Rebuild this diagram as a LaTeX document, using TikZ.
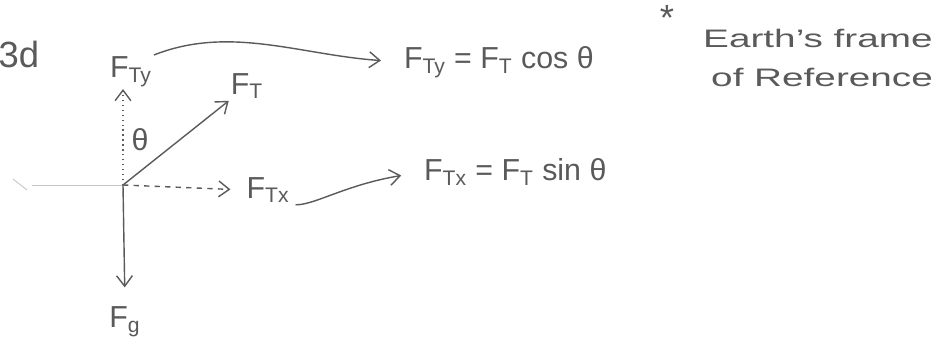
\documentclass[tikz,border=0pt]{standalone}
\usepackage{fontspec}
\setmainfont{Liberation Sans}
\usetikzlibrary{arrows.meta}
\definecolor{pencil}{HTML}{5A5A5A}
\tikzset{
    force/.style = {draw=pencil, line width=0.8pt, -{Straight Barb[length=6pt, width=9pt]}},
    part/.style = {force, dashed},
    label/.style = {text=pencil, font=\LARGE, inner sep=1pt},
    note/.style = {label, font=\Large, xscale=1.53, anchor=west},
}
\newcommand{\sub}[1]{\textsubscript{#1}}

\begin{document}
\begin{tikzpicture}[x=0.02cm, y=-0.02cm]
            \useasboundingbox (0, 0) rectangle (952, 350);

            \node[label, font=\huge] (num) at (19, 54) {3d};

            \coordinate (O) at (123, 185);
            \coordinate (ground) at (32, 185);
            \coordinate (slash) at (13, 179);

            \node[label] (FTy) at (131, 72) {F\sub{Ty}};
            \node[label] (FT) at (247, 86) {F\sub{T}};
            \node[label] (FTx) at (268, 190) {F\sub{Tx}};
            \node[label] (Fg) at (125, 322) {F\sub{g}};
            \node[label] (theta) at (140, 140) {θ};

            \node[label, anchor=west] (eqy) at (402, 62) {F\sub{Ty} = F\sub{T} cos θ};
            \node[label, anchor=west] (eqx) at (422, 172) {F\sub{Tx} = F\sub{T} sin θ};

            \node[label, font=\huge] (star) at (667, 18) {*};
            \node[note] (frame) at (700, 38) {Earth's frame};
            \node[note] (ref) at (708, 77) {of Reference};

            \draw[pencil!35, line width=0.5pt] (ground) -- (O);
            \draw[pencil!35, line width=0.5pt] (slash) -- ++(14, 11);
            \draw[force, dotted] (O) -- (O |- FTy.south);
            \draw[force] (O) -- (FT.south west);
            \draw[part, shorten >=8pt] (O) -- (FTx.west);
            \draw[force, shorten >=10pt] (O) -- (Fg.north);
            \draw[force, shorten >=12pt] (FTy.north east) .. controls (230, 25) and (300, 55) .. (eqy.west);
            \draw[force, shorten >=12pt] ([shift={(4, 0)}]FTx.south east) .. controls (315, 205) and (345, 185) .. (eqx.west);
        \end{tikzpicture}
\end{document}
